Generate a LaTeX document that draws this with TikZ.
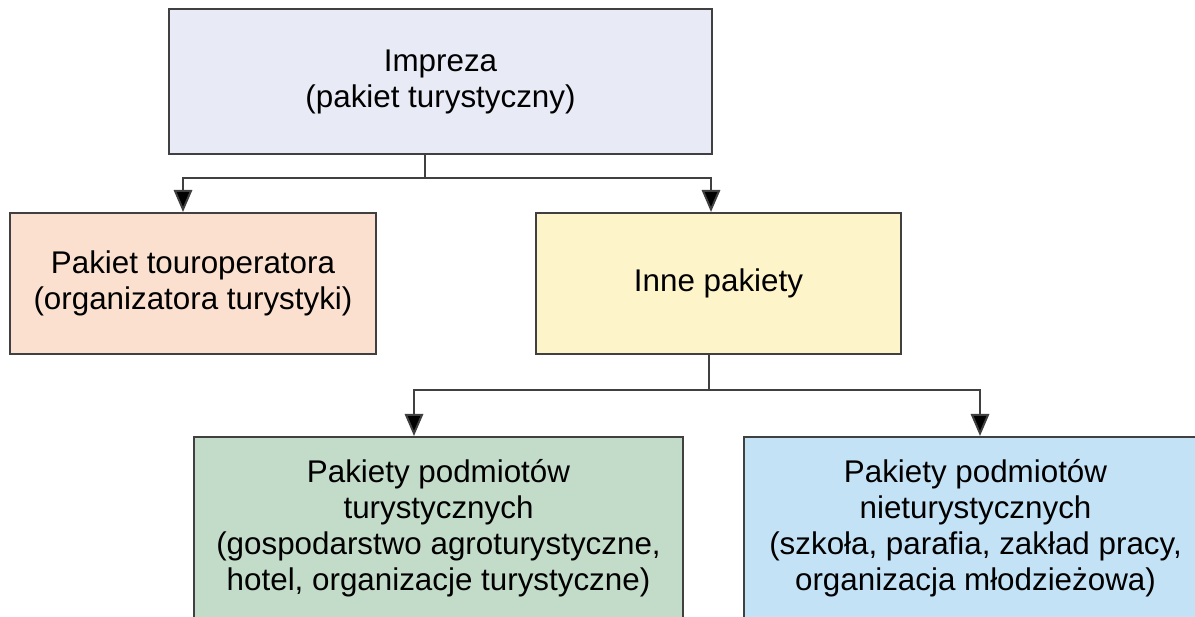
\documentclass[tikz,border=0pt]{standalone}
\usepackage{fontspec}
\setmainfont{Liberation Sans}
\usetikzlibrary{arrows.meta}

\definecolor{ramka}{HTML}{404040}
\definecolor{fiolet}{HTML}{E8EAF5}
\definecolor{brzoskwinia}{HTML}{FBE0CF}
\definecolor{zolty}{HTML}{FEF4CA}
\definecolor{zielony}{HTML}{C3DCC9}
\definecolor{niebieski}{HTML}{C4E2F5}

\tikzset{
    pakiet/.style={draw=ramka, line width=1.4pt, align=center, inner sep=0pt,
        font=\fontsize{22.3}{25.6}\selectfont},
    linia/.style={draw=ramka, line width=1.4pt},
    strzalka/.style={linia, -{Triangle[width=0.46cm,length=0.55cm,fill=black]}},
}

\begin{document}
\begin{tikzpicture}[x=0.025cm,y=-0.025cm]
    \useasboundingbox (0,0) rectangle (1195,617);
    \clip (0,0) rectangle (1195,617);
    % poziom 1
    \node[pakiet, fill=fiolet, minimum width=13.575cm, minimum height=3.625cm] (impreza) at (440.5,81.5)
        {Impreza\\(pakiet turystyczny)};
    % poziom 2
    \node[pakiet, fill=brzoskwinia, minimum width=9.15cm, minimum height=3.525cm] (touroper) at (193,283.5)
        {Pakiet touroperatora\\(organizatora turystyki)};
    \node[pakiet, fill=zolty, minimum width=9.125cm, minimum height=3.525cm] (inne) at (718.5,283.5)
        {Inne pakiety};
    % poziom 3
    \node[pakiet, fill=zielony, minimum width=12.225cm, minimum height=4.575cm] (turyst) at (438.5,528.5)
        {Pakiety podmiotów\\turystycznych\\(gospodarstwo agroturystyczne,\\hotel, organizacje turystyczne)};
    \node[pakiet, fill=niebieski, minimum width=11.575cm, minimum height=4.575cm] (nieturyst) at (975.5,528.5)
        {Pakiety podmiotów\\nieturystycznych\\(szkoła, parafia, zakład pracy,\\organizacja młodzieżowa)};
    % polaczenia
    \coordinate (w1) at (425,178);
    \coordinate (l1) at (183,178);
    \coordinate (r1) at (711,178);
    \draw[linia] (impreza.south -| w1) -- (w1);
    \draw[strzalka] (w1) -- (l1) -- (l1 |- touroper.north);
    \draw[strzalka] (w1) -- (r1) -- (r1 |- inne.north);
    \coordinate (w2) at (709,390);
    \coordinate (l2) at (414,390);
    \coordinate (r2) at (980,390);
    \draw[linia] (inne.south -| w2) -- (w2);
    \draw[strzalka] (w2) -- (l2) -- (l2 |- turyst.north);
    \draw[strzalka] (w2) -- (r2) -- (r2 |- nieturyst.north);
\end{tikzpicture}
\end{document}
